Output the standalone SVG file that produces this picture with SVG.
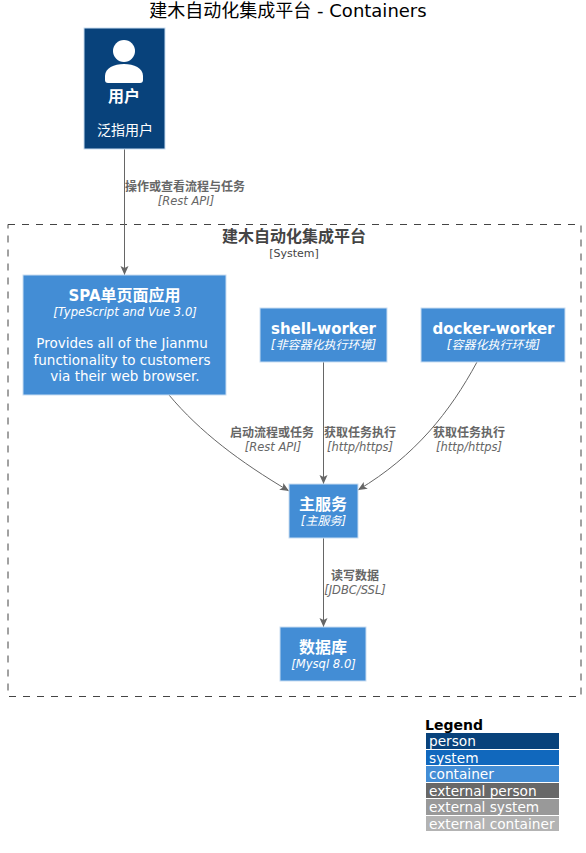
<svg xmlns="http://www.w3.org/2000/svg" width="586" height="853" viewBox="0 0 586 853">
<style>
text{font-family:"DejaVu Sans","Noto Sans CJK SC",sans-serif;text-anchor:middle}
.box{fill:#438DD5;stroke:#C9DDF2;stroke-width:1}
.t{fill:#fff;font-size:16px;font-weight:bold}
.tl{font-size:15px}
.s{fill:#fff;font-size:12px;font-style:italic}
.sl{fill:#fff;font-size:11.600px;font-style:italic}
.d{fill:#fff;font-size:13.500px}
.dc{fill:#fff;font-size:14px}
.rl{fill:#666;font-size:12px;font-weight:bold}
.rs{fill:#666;font-size:11.500px;font-style:italic}
.c{fill:none;stroke:#666;stroke-width:1}
.lg{fill:#fff;font-size:13.700px;text-anchor:start}
</style>
<defs>
<marker id="arrow" markerUnits="userSpaceOnUse" markerWidth="10" markerHeight="10" refX="9" refY="4" orient="auto">
<path d="M0,0 L9,4 L0,8 L2,4 Z" fill="#666"/>
</marker>
</defs>
<text x="288" y="17" font-size="18" fill="#000">建木自动化集成平台 - Containers</text>
<g id="boundary">
<rect x="8" y="224.500" width="573" height="472" fill="none" stroke="#444" stroke-width="1" stroke-dasharray="7,7"/>
<text x="294" y="242" font-size="16" font-weight="bold" fill="#444">建木自动化集成平台</text>
<text x="294" y="257" font-size="11" fill="#444">[System]</text>
</g>
<g id="connectors">
<path class="c" marker-end="url(#arrow)" d="M124.500,149 V275"/>
<path class="c" marker-end="url(#arrow)" d="M169,395 C200,432 240,462 289,491"/>
<path class="c" marker-end="url(#arrow)" d="M323.500,362 V484"/>
<path class="c" marker-end="url(#arrow)" d="M477,362 C450,412 415,456 358,490"/>
<path class="c" marker-end="url(#arrow)" d="M323.500,538 V627"/>
<text class="rl" x="185" y="191">操作或查看流程与任务</text>
<text class="rs" x="186" y="205">[Rest API]</text>
<text class="rl" x="272" y="437">启动流程或任务</text>
<text class="rs" x="273" y="451">[Rest API]</text>
<text class="rl" x="360" y="437">获取任务执行</text>
<text class="rs" x="360" y="451">[http/https]</text>
<text class="rl" x="469" y="437">获取任务执行</text>
<text class="rs" x="469" y="451">[http/https]</text>
<text class="rl" x="355" y="580">读写数据</text>
<text class="rs" x="355" y="594">[JDBC/SSL]</text>
</g>
<g id="user">
<rect x="84" y="28" width="81" height="121" fill="#08427B" stroke="#C9DDF2" stroke-width="1"/>
<circle cx="124" cy="51" r="11" fill="#fff"/>
<path d="M108,83 Q105,83 105,80 V76 C105,68 114,64 124,64 C134,64 143,68 143,76 V80 Q143,83 140,83 Z" fill="#fff"/>
<text class="t" x="124" y="102">用户</text>
<text class="dc" x="125" y="135">泛指用户</text>
</g>
<g id="spa">
<rect class="box" x="23" y="275" width="203" height="120"/>
<text class="t" x="124.500" y="301"><tspan class="tl">SPA</tspan>单页面应用</text>
<text class="sl" x="125" y="316">[TypeScript and Vue 3.0]</text>
<text class="d" x="122" y="348">Provides all of the Jianmu</text>
<text class="d" x="122" y="365">functionality to customers</text>
<text class="d" x="125" y="381">via their web browser.</text>
</g>
<g id="shell-worker">
<rect class="box" x="260" y="308" width="127" height="54"/>
<text class="t tl" x="323.500" y="334">shell-worker</text>
<text class="s" x="323.500" y="349">[非容器化执行环境]</text>
</g>
<g id="docker-worker">
<rect class="box" x="421" y="308" width="144" height="54"/>
<text class="t tl" x="493.500" y="334">docker-worker</text>
<text class="s" x="493.500" y="349">[容器化执行环境]</text>
</g>
<g id="main-service">
<rect class="box" x="289" y="484" width="69" height="54"/>
<text class="t" x="323" y="510">主服务</text>
<text class="s" x="323.500" y="525">[主服务]</text>
</g>
<g id="database">
<rect class="box" x="280" y="627" width="86" height="54"/>
<text class="t" x="323" y="653">数据库</text>
<text class="sl" x="323.500" y="668">[Mysql 8.0]</text>
</g>
<g id="legend">
<text x="425" y="730" font-size="14" font-weight="bold" fill="#000" style="text-anchor:start">Legend</text>
<rect x="426" y="733" width="133" height="16" fill="#08427B"/>
<rect x="426" y="750" width="133" height="15" fill="#1168BD"/>
<rect x="426" y="766" width="133" height="16" fill="#438DD5"/>
<rect x="426" y="783" width="133" height="15" fill="#686868"/>
<rect x="426" y="799" width="133" height="16" fill="#999999"/>
<rect x="426" y="816" width="133" height="15" fill="#B3B3B3"/>
<text class="lg" x="429" y="746">person</text>
<text class="lg" x="429" y="763">system</text>
<text class="lg" x="429" y="779">container</text>
<text class="lg" x="429" y="796">external person</text>
<text class="lg" x="429" y="812">external system</text>
<text class="lg" x="429" y="829">external container</text>
</g>
</svg>
